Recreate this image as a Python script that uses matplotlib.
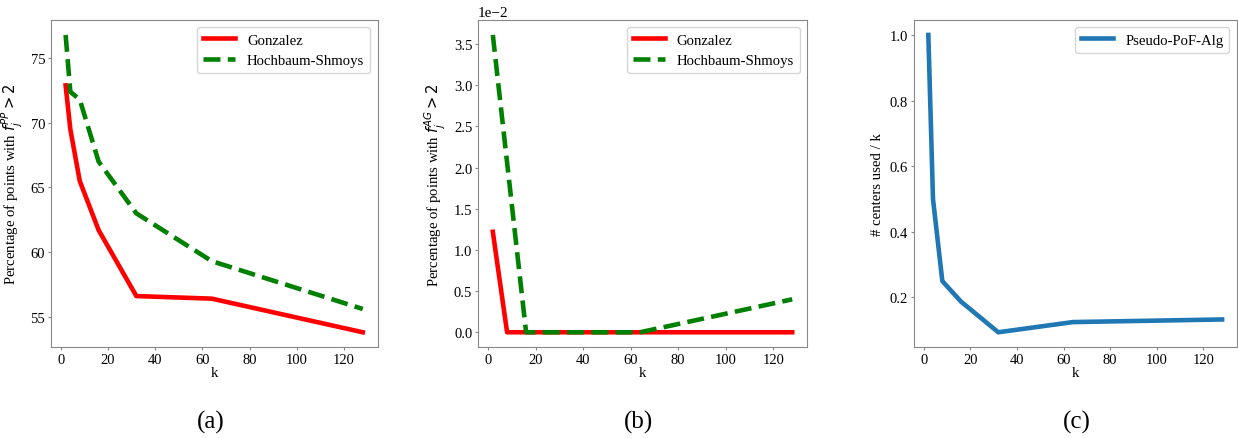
import numpy as np
import matplotlib
matplotlib.use("Agg")
import matplotlib.pyplot as plt

# number of centers
k_values = [2, 4, 8, 16, 32, 64, 128]

# (a) percentage of points with f_j^PP > 2
gonzalez_pp = [72.9, 69.5, 65.5, 61.7, 56.6, 56.4, 53.8]
hs_pp = [76.8, 72.4, 71.8, 67.0, 63.0, 59.3, 55.6]

# (b) percentage of points with f_j^AG > 2
gonzalez_ag = [0.0122, 0.0081, 0.0, 0.0, 0.0, 0.0, 0.0]
hs_ag = [0.0361, 0.0309, 0.0206, 0.0, 0.0, 0.0, 0.0040]

# (c) fraction of centers used
pseudo_pof = [1.0, 0.5, 0.25, 0.1875, 0.094, 0.125, 0.133]

plt.rcParams['font.family'] = ['Liberation Serif', 'DejaVu Serif']
plt.rcParams['font.size'] = 10.6
plt.rcParams['mathtext.fontset'] = 'dejavusans'

fig = plt.figure(figsize=(12.38, 4.39), dpi=100)
ax_a = fig.add_axes([0.041, 0.207, 0.264, 0.745])
ax_b = fig.add_axes([0.386, 0.207, 0.266, 0.745])
ax_c = fig.add_axes([0.738, 0.207, 0.261, 0.745])

lw = 3.3

ax_a.plot(k_values, gonzalez_pp, color='red', lw=lw, label='Gonzalez')
ax_a.plot(k_values, hs_pp, color='green', lw=lw, ls='--', label='Hochbaum-Shmoys')
ax_a.set_ylabel(r'Percentage of points with $f_j^{PP} > 2$')
ax_a.set_yticks([55, 60, 65, 70, 75])

ax_b.plot(k_values, gonzalez_ag, color='red', lw=lw, label='Gonzalez')
ax_b.plot(k_values, hs_ag, color='green', lw=lw, ls='--', label='Hochbaum-Shmoys')
ax_b.set_ylabel(r'Percentage of points with $f_j^{AG} > 2$')
ax_b.ticklabel_format(axis='y', style='sci', scilimits=(0, 0))
ax_b.yaxis.get_offset_text().set_fontsize(11)

ax_c.plot(k_values, pseudo_pof, color='#1f77b4', lw=lw, label='Pseudo-PoF-Alg')
ax_c.set_ylabel('# centers used / k')
ax_c.set_yticks([0.2, 0.4, 0.6, 0.8, 1.0])

for ax in (ax_a, ax_b, ax_c):
    ax.set_xlabel('k', labelpad=0)
    ax.set_xticks([0, 20, 40, 60, 80, 100, 120])
    for sp in ax.spines.values():
        sp.set_color('#888888')
    ax.tick_params(colors='#888888', labelcolor='black', labelsize=10.5,
                   length=2.5, pad=1.5)
    ax.legend(loc='upper right', fontsize=10.6, handlelength=2.2)

for x, lab in zip([0.170, 0.516, 0.870], ['(a)', '(b)', '(c)']):
    fig.text(x, 0.038, lab, ha='center', va='center', fontsize=18)

fig.savefig('out.png', dpi=100)
